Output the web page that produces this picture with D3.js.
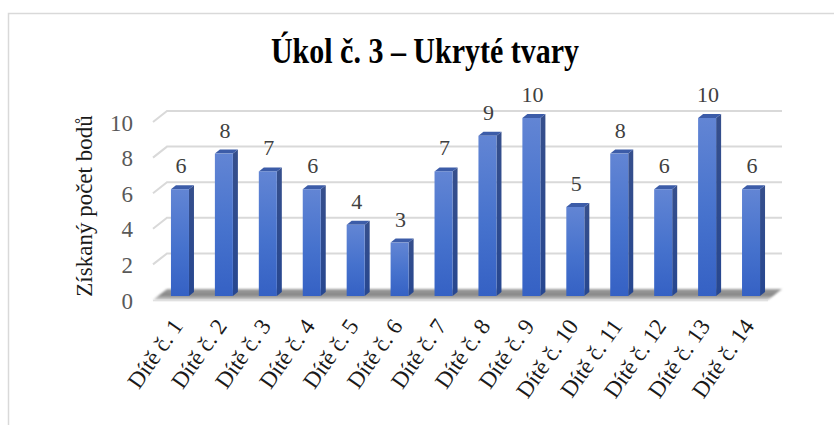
<!DOCTYPE html>
<html lang="cs">
  <head>
    <meta charset="UTF-8" />
    <title>Úkol č. 3 – Ukryté tvary</title>
    <script src="https://d3js.org/d3.v7.min.js"></script>
    <style>
      body {
        margin: 0;
        background-color: white;
      }
      text {
        font-family: "Liberation Serif", "Times New Roman", serif;
      }
      .grid {
        stroke: #d9d9d9;
        stroke-width: 2px;
        fill: none;
      }
      .tick-label {
        fill: #595959;
        font-size: 23px;
      }
      .value-label {
        fill: #404040;
        font-size: 22px;
      }
      .cat-label {
        fill: #1a1a1a;
        font-size: 23px;
      }
    </style>
  </head>
  <body>
    <svg id="chart" width="834" height="425"></svg>
    <script>
      // data
      const categories = [
        "Dítě č. 1", "Dítě č. 2", "Dítě č. 3", "Dítě č. 4", "Dítě č. 5",
        "Dítě č. 6", "Dítě č. 7", "Dítě č. 8", "Dítě č. 9", "Dítě č. 10",
        "Dítě č. 11", "Dítě č. 12", "Dítě č. 13", "Dítě č. 14"
      ];
      const scores = [6, 8, 7, 6, 4, 3, 7, 9, 10, 5, 8, 6, 10, 6];
      const yTicks = [0, 2, 4, 6, 8, 10];
      const chartTitle = "Úkol č. 3 – Ukryté tvary";
      const yTitle = "Získaný počet bodů";

      const svg = d3.select("#chart");

      // outer chart frame (only top and left edges are in view)
      svg.append("rect")
        .attr("x", 8.5).attr("y", 13.5)
        .attr("width", 900).attr("height", 500)
        .attr("fill", "white")
        .attr("stroke", "#d9d9d9")
        .attr("stroke-width", 1.5);

      // 3D geometry: bars sit at the "bar plane", floor front is 5px left / 4px down,
      // back wall is 9px right / 7px up from it
      const barDepth = { dx: 5, dy: -4 };
      const front = { dx: -5, dy: 4 };
      const back = { dx: 9, dy: -7 };

      const x = d3.scaleBand()
        .domain(categories)
        .range([158, 773])
        .paddingInner(0.59)
        .paddingOuter(0.295);

      const y = d3.scaleLinear().domain([0, 10]).range([296, 118]);

      const defs = svg.append("defs");

      const barGrad = defs.append("linearGradient")
        .attr("id", "barFront").attr("x1", 0).attr("y1", 0).attr("x2", 0).attr("y2", 1);
      barGrad.append("stop").attr("offset", "0%").attr("stop-color", "#6285d4");
      barGrad.append("stop").attr("offset", "55%").attr("stop-color", "#4672cd");
      barGrad.append("stop").attr("offset", "100%").attr("stop-color", "#3561c4");

      const sideGrad = defs.append("linearGradient")
        .attr("id", "barSide").attr("x1", 0).attr("y1", 0).attr("x2", 0).attr("y2", 1);
      sideGrad.append("stop").attr("offset", "0%").attr("stop-color", "#364f8c");
      sideGrad.append("stop").attr("offset", "100%").attr("stop-color", "#274790");

      const floorGrad = defs.append("linearGradient")
        .attr("id", "floorGrad").attr("x1", 0).attr("y1", 0).attr("x2", 0).attr("y2", 1);
      floorGrad.append("stop").attr("offset", "0%").attr("stop-color", "#a0a0a0");
      floorGrad.append("stop").attr("offset", "55%").attr("stop-color", "#858585");
      floorGrad.append("stop").attr("offset", "100%").attr("stop-color", "#d6d6d6");

      defs.append("filter").attr("id", "soft")
        .attr("x", "-5%").attr("y", "-60%").attr("width", "110%").attr("height", "220%")
        .append("feGaussianBlur").attr("stdDeviation", 1.3);

      const [r0, r1] = x.range();

      // gridlines: back wall line plus short diagonal on the left side wall
      const grid = svg.append("g");
      yTicks.filter((v) => v > 0).forEach((v) => {
        const yb = y(v);
        grid.append("polyline")
          .attr("class", "grid")
          .attr("points", [
            [r0 + front.dx, yb + front.dy],
            [r0 + back.dx, yb + back.dy],
            [r1 + back.dx, yb + back.dy]
          ].join(" "));
      });

      // floor
      svg.append("polygon")
        .attr("points", [
          [r0 + front.dx, y(0) + front.dy],
          [r0 + back.dx, y(0) + back.dy],
          [r1 + back.dx, y(0) + back.dy],
          [r1 + front.dx, y(0) + front.dy]
        ].join(" "))
        .attr("fill", "url(#floorGrad)")
        .attr("filter", "url(#soft)");

      svg.append("line")
        .attr("x1", r0 + front.dx).attr("y1", y(0) + front.dy + 0.5)
        .attr("x2", r1 + front.dx).attr("y2", y(0) + front.dy + 0.5)
        .attr("stroke", "#e0e0e0").attr("stroke-width", 1.5);

      // bars
      const bw = x.bandwidth();
      const bars = svg.append("g")
        .selectAll("g")
        .data(categories.map((c, i) => ({ cat: c, val: scores[i] })))
        .join("g");

      bars.append("polygon")
        .attr("points", (d) => {
          const x1 = x(d.cat) + bw, yt = y(d.val), yb = y(0);
          return [
            [x1, yt], [x1 + barDepth.dx, yt + barDepth.dy],
            [x1 + barDepth.dx, yb + barDepth.dy], [x1, yb]
          ].join(" ");
        })
        .attr("fill", "url(#barSide)");

      bars.append("polygon")
        .attr("points", (d) => {
          const x0 = x(d.cat), yt = y(d.val);
          return [
            [x0, yt], [x0 + barDepth.dx, yt + barDepth.dy],
            [x0 + bw + barDepth.dx, yt + barDepth.dy], [x0 + bw, yt]
          ].join(" ");
        })
        .attr("fill", "#3c5ca8");

      bars.append("rect")
        .attr("x", (d) => x(d.cat))
        .attr("y", (d) => y(d.val))
        .attr("width", bw)
        .attr("height", (d) => y(0) - y(d.val))
        .attr("fill", "url(#barFront)");

      // value labels
      bars.append("text")
        .attr("class", "value-label")
        .attr("x", (d) => x(d.cat) + bw / 2 + 1)
        .attr("y", (d) => y(d.val) - 16)
        .attr("text-anchor", "middle")
        .text((d) => d.val);

      // y tick labels
      svg.append("g")
        .selectAll("text")
        .data(yTicks)
        .join("text")
        .attr("class", "tick-label")
        .attr("x", 133)
        .attr("y", (d) => y(d) + front.dy + 1)
        .attr("text-anchor", "end")
        .attr("dominant-baseline", "central")
        .text((d) => d);

      // category labels, steeper than 45deg like the source
      svg.append("g")
        .selectAll("text")
        .data(categories)
        .join("text")
        .attr("class", "cat-label")
        .attr("text-anchor", "end")
        .attr("transform", (d) => `translate(${x(d) + bw / 2 + 4},326) rotate(-55)`)
        .text((d) => d);

      // y axis title
      svg.append("text")
        .attr("transform", "translate(92,206) rotate(-90)")
        .attr("text-anchor", "middle")
        .attr("font-size", 23)
        .attr("fill", "#1a1a1a")
        .text(yTitle);

      // chart title (source renders it a bit taller than wide)
      svg.append("text")
        .attr("transform", "translate(425,63) scale(1,1.2)")
        .attr("text-anchor", "middle")
        .attr("font-size", 30)
        .attr("font-weight", "bold")
        .attr("fill", "#000")
        .text(chartTitle);
    </script>
  </body>
</html>
